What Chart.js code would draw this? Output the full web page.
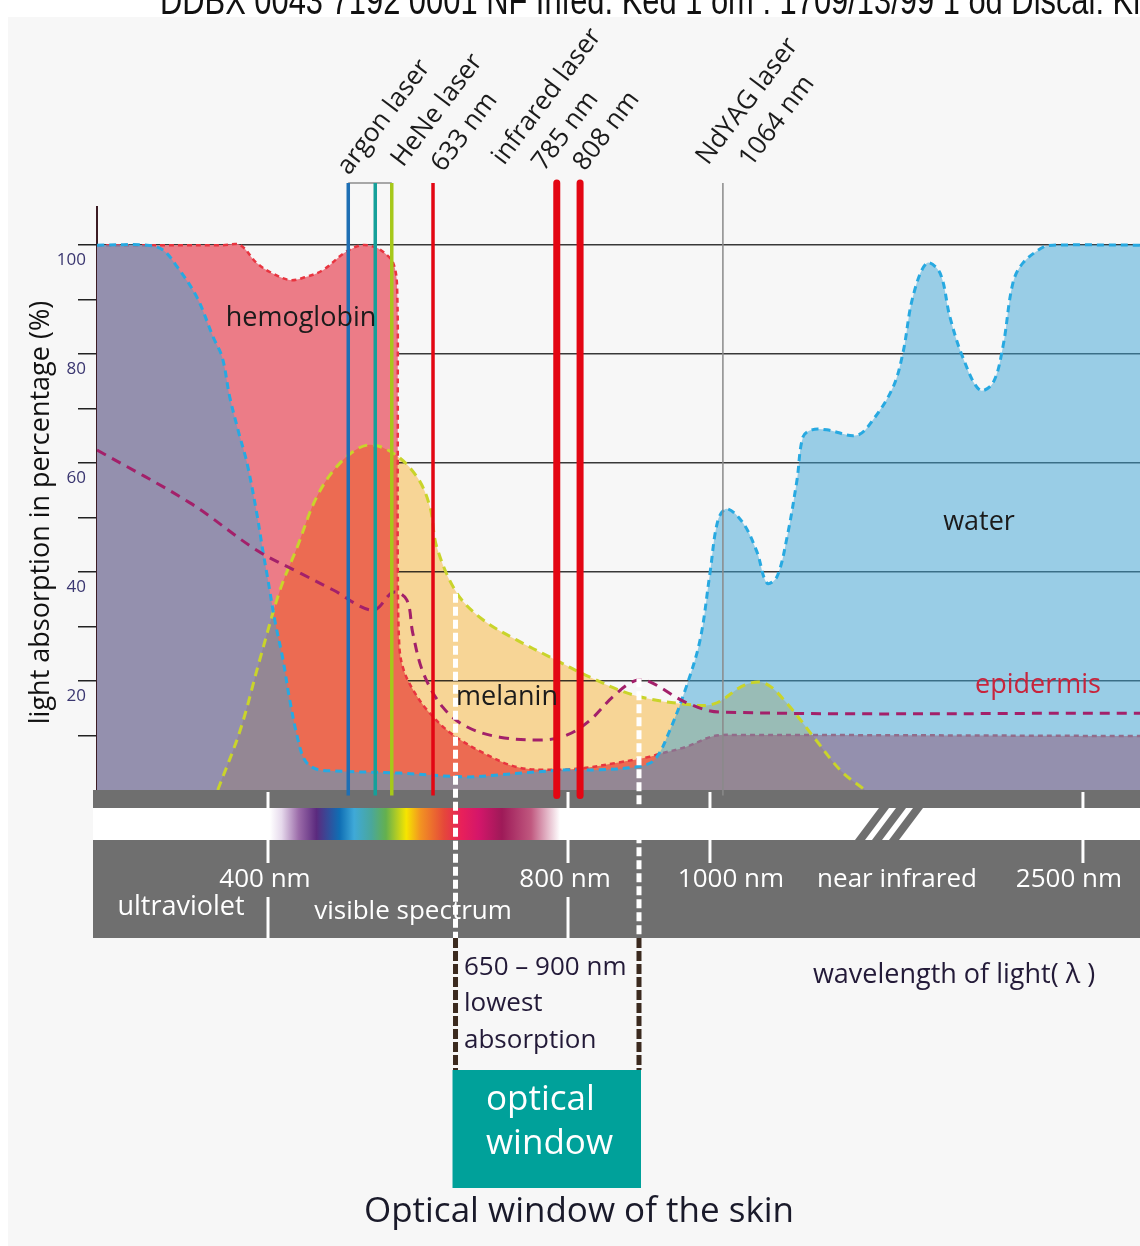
<!DOCTYPE html>
<html lang="en">
<head>
  <meta charset="UTF-8" />
  <title>Optical window of the skin</title>
  <style>
    html, body { margin: 0; padding: 0; background: #fff; }
    canvas { display: block; }
  </style>
</head>
<body>
  <canvas id="skinChart" width="1140" height="1246"></canvas>

  <script src="https://cdn.jsdelivr.net/npm/chart.js"></script>
  <script>
    // ---- values (wavelength in nm, absorption in %) ----
    const hemoglobinNm  = [172, 340, 363, 385, 405, 429, 449, 473, 503, 525, 543, 556, 567, 572, 573, 573, 575, 580, 592, 612, 643, 687, 732, 776, 821, 869, 915, 928, 966, 1016, 1113, 2729];
    const hemoglobinPct = [100, 100, 100, 96.7, 94.9, 93.6, 94.1, 95.4, 98.7, 100, 99.6, 98.5, 96.7, 92.7, 71.6, 42.2, 26.6, 22.4, 18.7, 14.7, 10.5, 6.8, 4.2, 3.7, 4.0, 5.0, 6.1, 6.6, 7.9, 9.9, 10.1, 9.9];

    const waterNm  = [172, 239, 260, 279, 305, 327, 339, 349, 360, 372, 385, 393, 400, 409, 420, 429, 440, 449, 463, 487, 576, 665, 709, 799, 845, 903, 923, 942, 966, 986, 1000, 1032, 1068, 1133, 1189, 1229, 1269, 1310, 1350, 1374, 1410, 1470, 1591, 1655, 1736, 1776, 1816, 1872, 1925, 1965, 2017, 2085, 2138, 2178, 2218, 2258, 2339, 2379, 2729];
    const waterPct = [100, 100, 99.1, 96.0, 90.5, 83.1, 79.4, 72.1, 66.1, 60.0, 50.8, 44.0, 38.5, 31.2, 23.9, 16.5, 9.2, 5.5, 3.9, 3.5, 3.1, 2.4, 2.8, 3.7, 3.7, 4.4, 5.7, 10.5, 18.7, 27.5, 39.8, 49.5, 51.6, 49.0, 43.7, 38.0, 39.1, 46.4, 56.9, 64.8, 66.1, 66.1, 65.1, 67.9, 73.9, 80.2, 90.5, 96.7, 94.9, 86.8, 79.4, 73.4, 74.7, 81.3, 93.0, 96.7, 99.6, 100, 100];

    const melaninNm  = [333, 363, 389, 416, 439, 465, 496, 532, 567, 599, 616, 625, 652, 687, 732, 776, 831, 893, 962, 1016, 1141, 1221, 1306, 1414, 1527, 1624];
    const melaninPct = [0, 11.0, 23.9, 36.7, 44.6, 53.8, 60.0, 63.3, 61.8, 57.4, 51.9, 44.6, 36.1, 31.2, 27.5, 24.4, 20.7, 17.4, 15.8, 15.8, 19.3, 19.6, 16.1, 9.9, 3.5, 0];

    const epidermisNm  = [172, 296, 385, 443, 487, 540, 567, 585, 593, 607, 633, 665, 709, 767, 799, 831, 863, 893, 913, 966, 1040, 2729];
    const epidermisPct = [62.4, 52.7, 44.0, 39.8, 36.7, 33.0, 36.3, 34.9, 28.8, 21.5, 15.2, 11.6, 9.7, 9.2, 10.1, 12.8, 17.1, 20.0, 20.0, 16.1, 14.3, 14.1];

    // lasers (positions as drawn on the axis)
    const laserNm = [507, 543, 565, 620, 785, 817, 1052];
    const laserLabels = ['argon laser', 'HeNe laser', '633 nm', 'infrared laser', '785 nm', '808 nm', 'NdYAG laser', '1064 nm'];

    // optical window 650 - 900 nm, and where its bounds meet the curves
    const windowNm = [650, 900];
    const windowTopPct = [36, 20.5];

    const bandTickNm = [400, 800, 1000, 2500];
    const bandTickLabels = ['400 nm', '800 nm', '1000 nm', '2500 nm'];

    const headerText = 'DDBX 0043 7192 0001 NF Infed. Ked 1 om : 1709/13/99 1 od Discal: Ki';
    const FONT = "'Open Sans', 'Noto Sans', sans-serif";

    // the wavelength axis is broken: stretched in the visible range, squeezed in the IR
    const axisNm  = [172, 800, 1000, 2500, 2729];
    const axisDec = [0, 0.4516, 0.5877, 0.9453, 1];
    function nmToDec(v) {
      for (let i = 1; i < axisNm.length; i++) {
        if (v <= axisNm[i] || i === axisNm.length - 1) {
          const t = (v - axisNm[i - 1]) / (axisNm[i] - axisNm[i - 1]);
          return axisDec[i - 1] + t * (axisDec[i] - axisDec[i - 1]);
        }
      }
    }
    function decToNm(d) {
      for (let i = 1; i < axisDec.length; i++) {
        if (d <= axisDec[i] || i === axisDec.length - 1) {
          const t = (d - axisDec[i - 1]) / (axisDec[i] - axisDec[i - 1]);
          return axisNm[i - 1] + t * (axisNm[i] - axisNm[i - 1]);
        }
      }
    }
    class BrokenScale extends Chart.LinearScale {
      getPixelForValue(v) { return this.getPixelForDecimal(nmToDec(v)); }
      getValueForPixel(p) { return decToNm(this.getDecimalForPixel(p)); }
    }
    BrokenScale.id = 'broken';
    BrokenScale.defaults = Chart.LinearScale.defaults;
    Chart.register(BrokenScale);

    const pts = (xs, ys) => xs.map((v, i) => ({ x: v, y: ys[i] }));

    function areaSet(label, xs, ys, color, order, blendAfter) {
      return { label, data: pts(xs, ys), fill: 'origin', backgroundColor: color,
               borderWidth: 0, pointRadius: 0, tension: 0.35, order, blendAfter };
    }
    function curveSet(label, xs, ys, color, width, dash, order) {
      return { label, data: pts(xs, ys), fill: false, borderColor: color, borderWidth: width,
               borderDash: dash, pointRadius: 0, tension: 0.35, order };
    }

    const laserStyle = [
      { c: '#1f6fb4', w: 3.5 }, { c: '#15a09a', w: 3.5 }, { c: '#a6c81a', w: 3.5 },
      { c: '#e30613', w: 3.5 }, { c: '#e30613', w: 7, cap: 'round' }, { c: '#e30613', w: 7, cap: 'round' },
      { c: '#8a8a8a', w: 1.5 }
    ];
    const laserTop = 111.4;
    const laserSets = laserNm.map((nm, i) => ({
      label: 'laser ' + nm, data: [{ x: nm, y: -1 }, { x: nm, y: laserTop }],
      borderColor: laserStyle[i].c, borderWidth: laserStyle[i].w, borderCapStyle: laserStyle[i].cap || 'butt',
      pointRadius: 0, fill: false, clip: false, order: 1
    }));
    laserSets.push({
      label: 'argon box', data: [{ x: laserNm[0], y: laserTop }, { x: laserNm[2], y: laserTop }],
      borderColor: '#8c8c8c', borderWidth: 1.5, pointRadius: 0, fill: false, clip: false, order: 1
    });

    // melanin is laid over hemoglobin with multiply, the rest blends normally
    const blendPlugin = {
      id: 'blend',
      afterDatasetDraw(chart, args) {
        const next = chart.data.datasets[args.index].blendAfter;
        if (next) chart.ctx.globalCompositeOperation = next;
      }
    };

    function text(ctx, s, x, y, size, color, align) {
      ctx.font = size + 'px ' + FONT;
      ctx.fillStyle = color;
      ctx.textAlign = align || 'center';
      ctx.textBaseline = 'middle';
      ctx.fillText(s, x, y);
    }
    function seg(ctx, x1, y1, x2, y2) {
      ctx.beginPath(); ctx.moveTo(x1, y1); ctx.lineTo(x2, y2); ctx.stroke();
    }

    const backdrop = {
      id: 'backdrop',
      beforeDraw(chart) {
        const ctx = chart.ctx;
        ctx.save();
        ctx.fillStyle = '#fff';
        ctx.fillRect(0, 0, chart.width, chart.height);
        ctx.fillStyle = '#f7f7f7';
        ctx.fillRect(8, 17, chart.width - 8, chart.height - 17);
        // scan header, cut off at the top edge
        ctx.font = "40px 'Liberation Sans', sans-serif";
        const w = ctx.measureText(headerText).width;
        ctx.translate(160, 14);
        ctx.scale(980 / w, 1);
        ctx.fillStyle = '#111';
        ctx.textAlign = 'left';
        ctx.textBaseline = 'alphabetic';
        ctx.fillText(headerText, 0, 0);
        ctx.restore();
      }
    };

    const band = {
      id: 'band',
      beforeDatasetsDraw(chart) {
        const { ctx, scales: { x } } = chart;
        ctx.save();
        ctx.fillStyle = '#6f6f6f';
        ctx.fillRect(93, 790, 1047, 18);
        ctx.fillStyle = '#fff';
        ctx.fillRect(93, 808, 1047, 32);
        const g = ctx.createLinearGradient(270, 0, 560, 0);
        [[0, '#ffffff'], [0.04, '#e6d9ec'], [0.10, '#9a6aa8'], [0.16, '#5b2a7e'], [0.24, '#0f6eb4'],
         [0.29, '#3fa9d8'], [0.35, '#4aa79b'], [0.40, '#64b04e'], [0.47, '#f6e500'], [0.52, '#f29222'],
         [0.60, '#e5483a'], [0.66, '#e8205a'], [0.72, '#d4166a'], [0.80, '#9e1a58'], [0.90, '#c0587f'],
         [1, '#ffffff']].forEach(s => g.addColorStop(s[0], s[1]));
        ctx.fillStyle = g;
        ctx.fillRect(270, 808, 290, 32);
        ctx.fillStyle = '#6f6f6f';
        ctx.fillRect(93, 840, 1047, 98);
        // axis break
        for (let i = 0; i < 3; i++) {
          const bx = 855 + i * 17;
          ctx.beginPath();
          ctx.moveTo(bx, 840); ctx.lineTo(bx + 10, 840);
          ctx.lineTo(bx + 34, 808); ctx.lineTo(bx + 24, 808);
          ctx.closePath(); ctx.fill();
        }
        ctx.strokeStyle = '#fff';
        ctx.lineWidth = 3;
        bandTickNm.forEach(nm => {
          const px = x.getPixelForValue(nm);
          seg(ctx, px, 792, px, 808);
          seg(ctx, px, 840, px, 863);
        });
        [400, 800].forEach(nm => {
          const px = x.getPixelForValue(nm);
          seg(ctx, px, 897, px, 938);
        });
        const shift = [-3, -3, 21, -14];
        bandTickNm.forEach((nm, i) => text(ctx, bandTickLabels[i], x.getPixelForValue(nm) + shift[i], 880, 26, '#fff'));
        text(ctx, 'ultraviolet', 181, 907, 27, '#fff');
        text(ctx, 'visible spectrum', 413, 912, 26, '#fff');
        text(ctx, 'near infrared', 897, 880, 26, '#fff');
        ctx.restore();
      }
    };

    const overlay = {
      id: 'overlay',
      afterDraw(chart) {
        const { ctx, scales: { x, y } } = chart;
        ctx.save();
        ctx.globalCompositeOperation = 'source-over';
        windowNm.forEach((nm, i) => {
          const px = x.getPixelForValue(nm);
          ctx.lineWidth = 5;
          ctx.setLineDash([9, 4]);
          ctx.strokeStyle = '#fff';
          seg(ctx, px, y.getPixelForValue(windowTopPct[i]), px, 938);
          ctx.setLineDash([10, 3]);
          ctx.strokeStyle = '#3b2a1f';
          seg(ctx, px, 938, px, 1070);
        });
        ctx.setLineDash([]);
        const x0 = x.getPixelForValue(windowNm[0]) - 3;
        const x1 = x.getPixelForValue(windowNm[1]) + 2;
        ctx.fillStyle = '#00a19a';
        ctx.fillRect(x0, 1070, x1 - x0, 118);
        text(ctx, 'optical', 486, 1100, 35, '#fff', 'left');
        text(ctx, 'window', 486, 1144, 35, '#fff', 'left');
        text(ctx, '650 \u2013 900 nm', 464, 968, 26, '#231a38', 'left');
        text(ctx, 'lowest', 464, 1004, 26, '#231a38', 'left');
        text(ctx, 'absorption', 464, 1041, 26, '#231a38', 'left');
        text(ctx, 'wavelength of light( \u03bb )', 954, 975, 27, '#231a38');
        text(ctx, 'Optical window of the skin', 579, 1212, 35, '#1a1a2a');

        text(ctx, 'hemoglobin', 301, 318, 27, '#1b1b1b');
        text(ctx, 'melanin', 507, 697, 27, '#1b1b1b');
        text(ctx, 'water', 979, 522, 27, '#1b1b1b');
        text(ctx, 'epidermis', 1038, 685, 27, '#c8243c');

        const anchors = [[349, 176], [403, 168], [443, 173], [504, 166], [544, 172], [585, 172], [708, 166], [751, 168]];
        ctx.font = '26px ' + FONT;
        ctx.fillStyle = '#1b1b1b';
        ctx.textAlign = 'left';
        ctx.textBaseline = 'alphabetic';
        laserLabels.forEach((s, i) => {
          ctx.save();
          ctx.translate(anchors[i][0], anchors[i][1]);
          ctx.rotate(-53 * Math.PI / 180);
          ctx.fillText(s, 0, 0);
          ctx.restore();
        });
        ctx.restore();
      }
    };

    new Chart(document.getElementById('skinChart'), {
      type: 'line',
      data: {
        datasets: [
          areaSet('hemoglobin area', hemoglobinNm, hemoglobinPct, '#ec7c87', 10, 'multiply'),
          areaSet('melanin area', melaninNm, melaninPct, '#ffdc9b', 9, 'source-over'),
          curveSet('hemoglobin', hemoglobinNm, hemoglobinPct, '#e8343f', 2.5, [5, 4], 8),
          areaSet('water area', waterNm, waterPct, 'rgba(59,163,213,0.5)', 7),
          curveSet('melanin', melaninNm, melaninPct, '#c9d42b', 3, [9, 6], 6),
          curveSet('water', waterNm, waterPct, '#27a9e1', 3, [7, 5], 5),
          curveSet('epidermis', epidermisNm, epidermisPct, '#a3206a', 3, [10, 7], 4),
          ...laserSets
        ]
      },
      options: {
        responsive: false,
        animation: false,
        events: [],
        layout: { padding: { top: 207, bottom: 456, left: 10, right: 0 } },
        plugins: { legend: { display: false }, tooltip: { enabled: false } },
        scales: {
          x: { type: 'broken', min: 172, max: 2729, display: false },
          y: {
            min: 0,
            max: 107,
            z: 1,
            afterFit: s => { s.width = 87; },
            border: { display: true, color: '#3c1c24', width: 2 },
            grid: {
              color: c => (c.tick && c.tick.value > 0 && c.tick.value % 20 === 0) ? 'rgba(35,35,35,0.9)' : 'transparent',
              tickColor: c => (c.tick && c.tick.value > 0) ? '#222' : 'transparent',
              lineWidth: 1.5,
              tickLength: 19
            },
            ticks: {
              stepSize: 10,
              includeBounds: false,
              autoSkip: false,
              labelOffset: 15,
              padding: -8,
              color: '#3a3670',
              font: { family: FONT, size: 17 },
              callback: v => (v > 0 && v % 20 === 0) ? String(v) : ''
            },
            title: {
              display: true,
              // trailing spaces nudge the centred title down to where the original sits
              text: 'light absorption in percentage (%)\u00a0\u00a0\u00a0\u00a0',
              color: '#111',
              font: { family: FONT, size: 27 },
              padding: { top: 15, bottom: 0 }
            }
          }
        }
      },
      plugins: [backdrop, band, blendPlugin, overlay]
    });
  </script>
</body>
</html>
